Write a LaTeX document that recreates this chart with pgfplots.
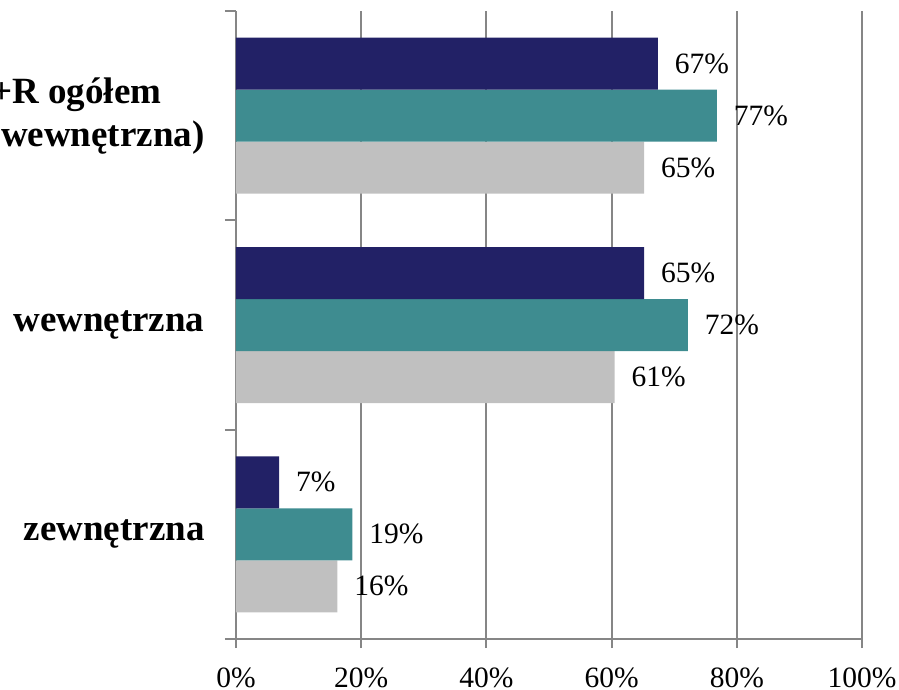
\documentclass[border=0pt]{standalone}
\usepackage{pgfplots}
\pgfplotsset{compat=1.18}
\usepackage{fontspec}
\setmainfont{Liberation Serif}

\definecolor{barnavy}{RGB}{34,33,102}
\definecolor{barteal}{RGB}{62,140,144}
\definecolor{bargrey}{RGB}{192,192,192}
\definecolor{gridgrey}{RGB}{134,134,134}

\begin{document}
\begin{tikzpicture}
\begin{axis}[
    name=ax,
    xbar=0pt,
    bar width=20.8pt,
    scale only axis,
    width=250.4pt, height=251.2pt,
    xmin=0, xmax=100,
    ymin=-0.5, ymax=2.5,
    y dir=reverse,
    axis x line*=bottom,
    axis y line*=left,
    axis line style={gridgrey, line width=0.8pt},
    xtick={0,20,40,60,80,100},
    xticklabel={\pgfmathprintnumber{\tick}\%},
    /pgf/number format/assume math mode=true,
    xmajorgrids,
    major grid style={gridgrey, line width=0.8pt},
    tick align=outside,
    tick style={gridgrey, line width=0.8pt},
    xtick pos=bottom,
    ytick pos=left,
    major tick length=3.6pt,
    minor tick length=4.4pt,
    ytick={0,1,2},
    yticklabels={{B+R ogółem\rule{17.2pt}{0pt}\\(wewnętrzna)}, wewnętrzna, zewnętrzna},
    every major y tick/.append style={draw opacity=0},
    minor ytick={-0.5,0.5,1.5,2.5},
    xticklabel style={font=\fontsize{11.8}{14}\selectfont, inner sep=0pt, yshift=-7.6pt},
    yticklabel style={font=\fontsize{14.8}{17.2}\selectfont\bfseries, align=right, inner sep=0pt, xshift=-8.8pt},
    point meta=x,
    nodes near coords={\pgfmathprintnumber[fixed,precision=0]{\pgfplotspointmeta}\%},
    nodes near coords align=horizontal,
    every node near coord/.append style={anchor=west, inner sep=0pt, xshift=6.6pt,
        font=\fontsize{11.8}{14}\selectfont, text=black},
]
% plotted bottom to top within each group
\addplot[fill=bargrey, draw=none] coordinates {(65.2,0) (60.5,1) (16.2,2)};
\addplot[fill=barteal, draw=none] coordinates {(76.8,0) (72.2,1) (18.6,2)};
\addplot[fill=barnavy, draw=none] coordinates {(67.4,0) (65.2,1) (6.9,2)};
\end{axis}
\pgfresetboundingbox
\path[use as bounding box] ([xshift=-94.4pt,yshift=-20.4pt]ax.south west) rectangle ([xshift=265.2pt,yshift=255.6pt]ax.south west);
\end{tikzpicture}
\end{document}
